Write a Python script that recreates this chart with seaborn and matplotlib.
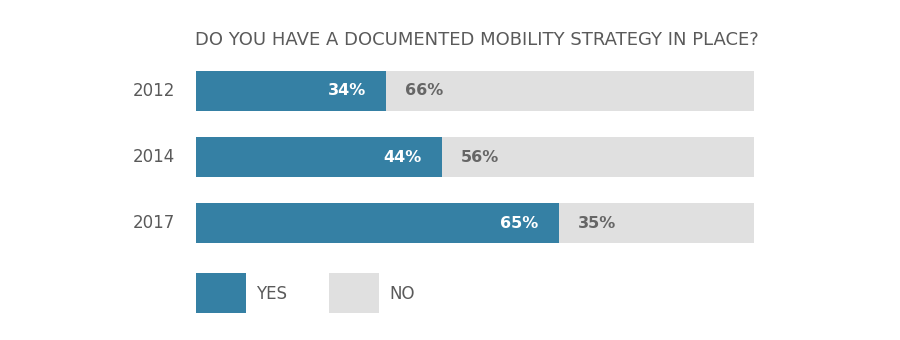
import matplotlib
matplotlib.use("Agg")
import matplotlib.pyplot as plt
from matplotlib.patches import Rectangle
import seaborn as sns
import pandas as pd

years = ["2012", "2014", "2017"]
yes_pct = [34, 44, 65]
no_pct = [66, 56, 35]
title = "DO YOU HAVE A DOCUMENTED MOBILITY STRATEGY IN PLACE?"
legend_labels = ["YES", "NO"]

BLUE = "#3580a4"
GREY = "#e0e0e0"
TEXT = "#5a5a5a"

sns.set_theme(style="white")
plt.rcParams["font.family"] = ["DejaVu Sans"]

W, H = 900, 340
fig = plt.figure(figsize=(9, 3.4), dpi=100)
ax = fig.add_axes([196 / W, (H - 243) / H, 558 / W, 172 / H])

df = pd.DataFrame({"year": years, "yes": yes_pct, "no": no_pct})
df["total"] = df["yes"] + df["no"]

# full-width "no" bar underneath, "yes" bar on top
sns.barplot(data=df, y="year", x="total", color=GREY, width=0.6,
            saturation=1, ax=ax, orient="h", linewidth=0)
sns.barplot(data=df, y="year", x="yes", color=BLUE, width=0.6,
            saturation=1, ax=ax, orient="h", linewidth=0)

ax.set_xlim(0, 100)
ax.set_ylim(2.3, -0.3)
ax.set_xlabel("")
ax.set_ylabel("")
ax.set_xticks([])
for s in ax.spines.values():
    s.set_visible(False)
ax.tick_params(axis="y", length=0, pad=15, labelsize=12, labelcolor=TEXT)
for lab in ax.get_yticklabels():
    lab.set_verticalalignment("center")

for i, (y, n) in enumerate(zip(yes_pct, no_pct)):
    ax.annotate(f"{y}%", (y, i), xytext=(-20, 0), textcoords="offset pixels",
                ha="right", va="center", color="white", fontsize=11.5,
                fontweight="bold")
    ax.annotate(f"{n}%", (y, i), xytext=(19, 0), textcoords="offset pixels",
                ha="left", va="center", color="#666666", fontsize=11.5,
                fontweight="bold")

fig.text(195 / W, 1 - 40 / H, title, ha="left", va="center",
         fontsize=13, color=TEXT)

# legend swatches
for x0, col, lab in [(196, BLUE, legend_labels[0]), (329, GREY, legend_labels[1])]:
    fig.add_artist(Rectangle((x0 / W, 1 - 313 / H), 50 / W, 40 / H,
                             transform=fig.transFigure, facecolor=col,
                             edgecolor="none"))
    fig.text((x0 + 60) / W, 1 - 294 / H, lab, ha="left", va="center",
             fontsize=12, color=TEXT)

fig.savefig("out.png", dpi=100, facecolor="white")
